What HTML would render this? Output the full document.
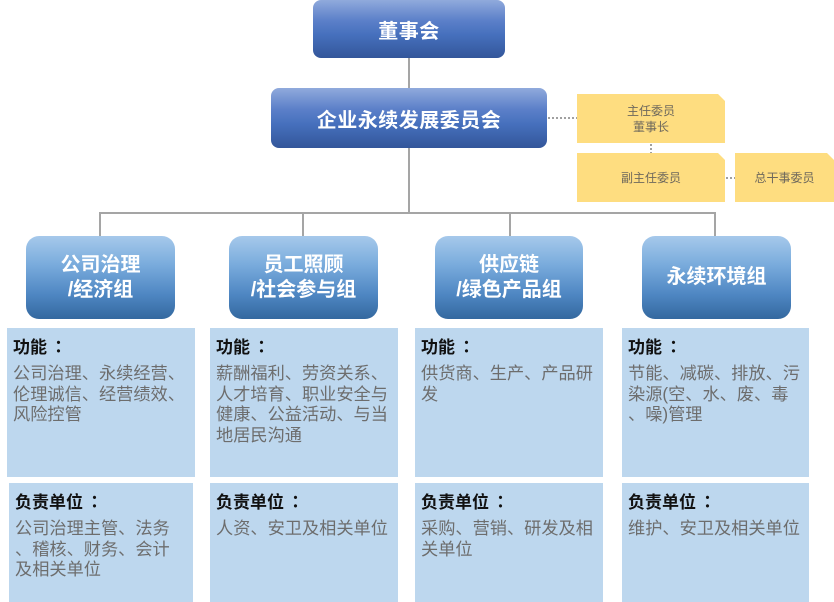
<!DOCTYPE html>
<html><head><meta charset="utf-8">
<style>
*{margin:0;padding:0;box-sizing:border-box}
body{width:834px;height:602px;background:#fff;position:relative;overflow:hidden;font-family:"Liberation Sans","Noto Sans CJK SC",sans-serif}
.abs{position:absolute}
.top{background:linear-gradient(#90aadc 0%,#5c80c9 35%,#4670bd 60%,#33569a 100%);border-radius:8px;color:#fff;font-weight:bold;font-size:20px;display:flex;align-items:center;justify-content:center;letter-spacing:0.5px}
.grp{background:linear-gradient(#a6c9eb 0%,#79abdc 35%,#4f87c3 70%,#33689f 100%);border-radius:13px;color:#fff;font-weight:bold;font-size:20px;line-height:25px;display:flex;align-items:center;justify-content:center;text-align:center}
.yel{background:#fedd80;color:#6e685c;font-size:12px;line-height:16px;display:flex;align-items:center;justify-content:center;text-align:center;clip-path:polygon(0 0,calc(100% - 7px) 0,100% 7px,100% 100%,0 100%)}
.box{background:#bdd7ee;padding:5px 6px;white-space:nowrap}
.box h4{font-size:17px;color:#111;font-weight:bold;line-height:26px;margin-top:0}
.box h4 span{font-family:"Noto Sans CJK TC",sans-serif;margin-left:3px}
.box p{font-size:17.2px;color:#6d6d6d;line-height:20.7px;margin-top:2px}
</style></head><body>
<svg class="abs" style="left:0;top:0" width="834" height="602">
<g stroke="#a5a5a5" stroke-width="2" fill="none">
<line x1="409" y1="58" x2="409" y2="88"/>
<line x1="409" y1="148" x2="409" y2="213"/>
<line x1="100" y1="213" x2="715" y2="213"/>
<line x1="100" y1="212" x2="100" y2="236"/>
<line x1="303" y1="212" x2="303" y2="236"/>
<line x1="510" y1="212" x2="510" y2="236"/>
<line x1="715" y1="212" x2="715" y2="236"/>
</g>
<g stroke="#a0a0a0" stroke-width="2" stroke-dasharray="2,2" fill="none">
<line x1="548" y1="118" x2="577" y2="118"/>
<line x1="651" y1="144" x2="651" y2="153"/>
<line x1="726" y1="178" x2="735" y2="178"/>
</g>
</svg>

<div class="abs top" style="left:313px;top:0;width:192px;height:58px">董事会</div>
<div class="abs top" style="left:271px;top:88px;width:276px;height:60px">企业永续发展委员会</div>

<div class="abs yel" style="left:577px;top:94px;width:148px;height:49px">主任委员<br>董事长</div>
<div class="abs yel" style="left:577px;top:153px;width:148px;height:49px">副主任委员</div>
<div class="abs yel" style="left:735px;top:153px;width:99px;height:49px">总干事委员</div>

<div class="abs grp" style="left:26px;top:236px;width:149px;height:83px">公司治理<br>/经济组</div>
<div class="abs grp" style="left:229px;top:236px;width:149px;height:83px">员工照顾<br>/社会参与组</div>
<div class="abs grp" style="left:435px;top:236px;width:148px;height:83px">供应链<br>/绿色产品组</div>
<div class="abs grp" style="left:642px;top:236px;width:149px;height:83px">永续环境组</div>

<div class="abs box" style="left:7px;top:328px;width:188px;height:149px"><h4>功能<span>：</span></h4><p>公司治理、永续经营、<br>伦理诚信、经营绩效、<br>风险控管</p></div>
<div class="abs box" style="left:210px;top:328px;width:188px;height:149px"><h4>功能<span>：</span></h4><p>薪酬福利、劳资关系、<br>人才培育、职业安全与<br>健康、公益活动、与当<br>地居民沟通</p></div>
<div class="abs box" style="left:415px;top:328px;width:188px;height:149px"><h4>功能<span>：</span></h4><p>供货商、生产、产品研<br>发</p></div>
<div class="abs box" style="left:622px;top:328px;width:187px;height:149px"><h4>功能<span>：</span></h4><p>节能、减碳、排放、污<br>染源(空、水、废、毒<br>、噪)管理</p></div>

<div class="abs box" style="left:9px;top:483px;width:184px;height:119px"><h4>负责单位<span>：</span></h4><p>公司治理主管、法务<br>、稽核、财务、会计<br>及相关单位</p></div>
<div class="abs box" style="left:210px;top:483px;width:188px;height:119px"><h4>负责单位<span>：</span></h4><p>人资、安卫及相关单位</p></div>
<div class="abs box" style="left:415px;top:483px;width:188px;height:119px"><h4>负责单位<span>：</span></h4><p>采购、营销、研发及相<br>关单位</p></div>
<div class="abs box" style="left:622px;top:483px;width:187px;height:119px"><h4>负责单位<span>：</span></h4><p>维护、安卫及相关单位</p></div>
</body></html>
